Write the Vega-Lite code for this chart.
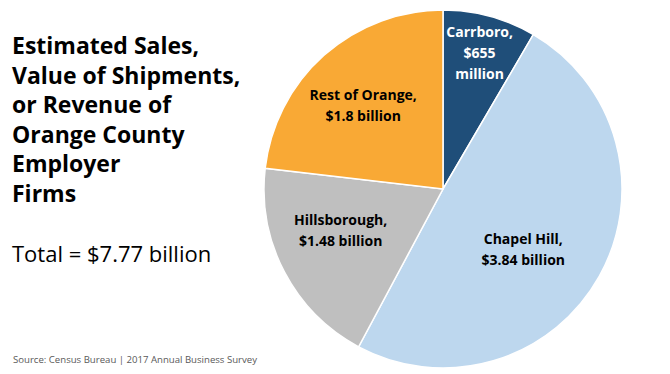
{
  "$schema": "https://vega.github.io/schema/vega-lite/v6.json",
  "autosize": {"type": "pad"},
  "padding": {"left": 12, "top": 7, "right": 48, "bottom": 9},
  "background": "white",
  "title": {
    "text": "Source: Census Bureau | 2017 Annual Business Survey",
    "orient": "bottom",
    "anchor": "start",
    "frame": "group",
    "dx": -251,
    "dy": -20,
    "font": "Open Sans",
    "fontSize": 9.6,
    "fontWeight": "normal",
    "color": "#595959"
  },
  "config": {"view": {"stroke": null}},
  "hconcat": [
    {
      "width": 358,
      "height": 358,
      "title": {
        "text": ["Estimated Sales,", "Value of Shipments,", "or Revenue of", "Orange County", "Employer", "Firms"],
        "subtitle": "Total = $7.77 billion",
        "orient": "top",
        "anchor": "start",
        "frame": "group",
        "align": "left",
        "dx": -252,
        "dy": 263,
        "font": "Open Sans",
        "fontSize": 23,
        "fontWeight": "bold",
        "lineHeight": 29.6,
        "color": "black",
        "subtitleFont": "Open Sans",
        "subtitleFontSize": 22,
        "subtitleFontWeight": "normal",
        "subtitleColor": "black",
        "subtitlePadding": 38
      },
      "data": {
        "values": [
          {"name": "Carrboro", "value": 0.655, "label": "Carrboro,\n$655\nmillion"},
          {"name": "Chapel Hill", "value": 3.84, "label": "Chapel Hill,\n$3.84 billion"},
          {"name": "Hillsborough", "value": 1.48, "label": "Hillsborough,\n$1.48 billion"},
          {"name": "Rest of Orange", "value": 1.8, "label": "Rest of Orange,\n$1.8 billion"}
        ]
      },
      "encoding": {
        "theta": {"field": "value", "type": "quantitative", "stack": true},
        "color": {
          "field": "name",
          "type": "nominal",
          "sort": ["Carrboro", "Chapel Hill", "Hillsborough", "Rest of Orange"],
          "scale": {
            "domain": ["Carrboro", "Chapel Hill", "Hillsborough", "Rest of Orange"],
            "range": ["#1F4E79", "#BDD7EE", "#BFBFBF", "#F9A935"]
          },
          "legend": null
        }
      },
      "layer": [
        {
          "mark": {"type": "arc", "outerRadius": 179, "stroke": "white", "strokeWidth": 1.5}
        },
        {
          "mark": {"type": "text", "radius": 140, "dy": -21, "font": "Open Sans", "fontSize": 14, "fontWeight": "bold", "lineBreak": "\n", "lineHeight": 21, "align": "center", "baseline": "middle"},
          "encoding": {
            "text": {"condition": {"test": "datum.name == 'Carrboro'", "field": "label"}, "value": ""},
            "color": {"value": "white"}
          }
        },
        {
          "mark": {"type": "text", "radius": 92, "dy": 6.5, "font": "Open Sans", "fontSize": 14, "fontWeight": "bold", "lineBreak": "\n", "lineHeight": 21, "align": "center", "baseline": "middle"},
          "encoding": {
            "text": {"condition": {"test": "datum.name == 'Chapel Hill'", "field": "label"}, "value": ""},
            "color": {"value": "black"}
          }
        },
        {
          "mark": {"type": "text", "radius": 111, "dx": -4, "dy": -19.5, "font": "Open Sans", "fontSize": 14, "fontWeight": "bold", "lineBreak": "\n", "lineHeight": 21, "align": "center", "baseline": "middle"},
          "encoding": {
            "text": {"condition": {"test": "datum.name == 'Hillsborough'", "field": "label"}, "value": ""},
            "color": {"value": "black"}
          }
        },
        {
          "mark": {"type": "text", "radius": 111, "dx": -6, "dy": -10.5, "font": "Open Sans", "fontSize": 14, "fontWeight": "bold", "lineBreak": "\n", "lineHeight": 21, "align": "center", "baseline": "middle"},
          "encoding": {
            "text": {"condition": {"test": "datum.name == 'Rest of Orange'", "field": "label"}, "value": ""},
            "color": {"value": "black"}
          }
        }
      ]
    }
  ]
}
